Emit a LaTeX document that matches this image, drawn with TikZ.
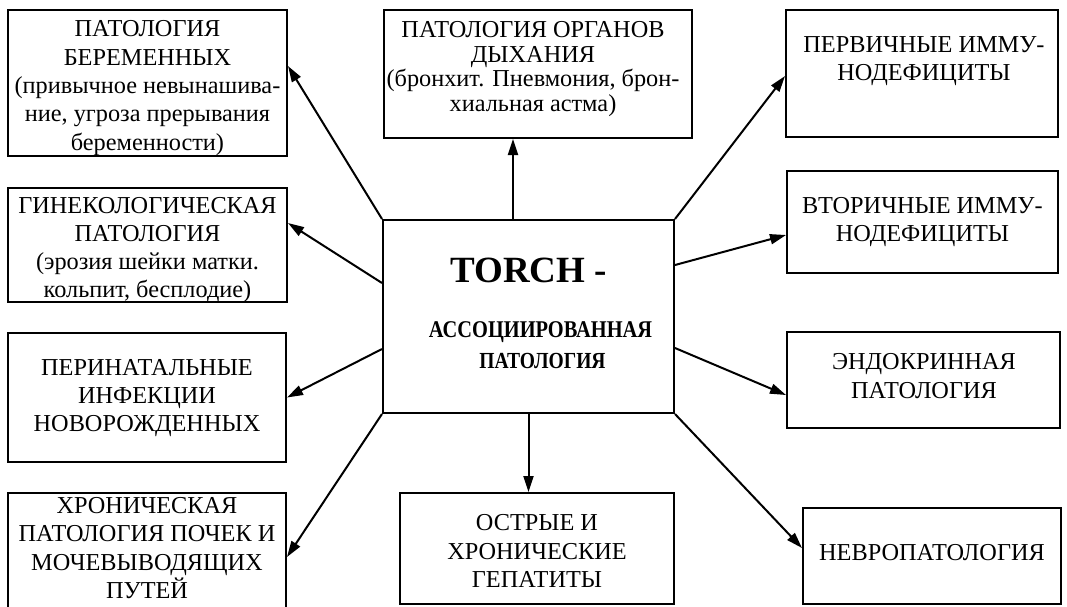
\documentclass[tikz,border=0pt]{standalone}
\usepackage{fontspec}
\setmainfont{Liberation Serif}
\newfontfamily\cenfont{Liberation Serif}[FakeStretch=0.85]
\usetikzlibrary{arrows.meta}
\tikzset{
  box/.style={draw, line width=2pt, inner sep=0pt},
  txt/.style={align=center, inner sep=0pt, font=\fontsize{24.3}{28.3}\selectfont},
  txtr/.style={align=center, inner sep=0pt, font=\fontsize{24.3}{24.8}\selectfont},
  arr/.style={line width=2pt, -{Triangle[length=16pt,width=10pt]}}
}
\begin{document}
\begin{tikzpicture}[x=1pt,y=-1pt]
\useasboundingbox (0,0) rectangle (1067,606);
\clip (0,0) rectangle (1067,606);
% boxes
\node[box, minimum width=279pt, minimum height=146pt] (pb) at (147.5,83) {};
\node[box, minimum width=279pt, minimum height=114pt] (gyn) at (147.5,245) {};
\node[box, minimum width=278pt, minimum height=129pt] (per) at (147,397.5) {};
\node[box, minimum width=278pt, minimum height=119pt] (kid) at (147,552.5) {};
\node[box, minimum width=308pt, minimum height=128pt] (resp) at (538,74) {};
\node[box, minimum width=291pt, minimum height=193pt] (cen) at (528.5,316.5) {};
\node[box, minimum width=274pt, minimum height=111pt] (hep) at (537,548.5) {};
\node[box, minimum width=272pt, minimum height=127pt] (prim) at (922,73.5) {};
\node[box, minimum width=271pt, minimum height=102pt] (sec) at (922.5,222) {};
\node[box, minimum width=273pt, minimum height=96pt] (endo) at (923.5,380) {};
\node[box, minimum width=258pt, minimum height=96pt] (neu) at (932,556) {};
% texts
\node[txt] (pbt) at (147.5,88) {ПАТОЛОГИЯ\\БЕРЕМЕННЫХ\\(привычное невынашива-\\ние, угроза прерывания\\беременности)};
\node[txt] (gynt) at (147.5,250) {ГИНЕКОЛОГИЧЕСКАЯ\\ПАТОЛОГИЯ\\(эрозия шейки матки.\\кольпит, бесплодие)};
\node[txt] (pert) at (147,398) {ПЕРИНАТАЛЬНЫЕ\\ИНФЕКЦИИ\\НОВОРОЖДЕННЫХ};
\node[txt] (kidt) at (147,548) {ХРОНИЧЕСКАЯ\\ПАТОЛОГИЯ ПОЧЕК И\\МОЧЕВЫВОДЯЩИХ\\ПУТЕЙ};
\node[txtr] (respt) at (533,69) {ПАТОЛОГИЯ ОРГАНОВ\\ДЫХАНИЯ\\(бронхит. Пневмония, брон-\\хиальная астма)};
\node[txt] (hept) at (537,551) {ОСТРЫЕ И\\ХРОНИЧЕСКИЕ\\ГЕПАТИТЫ};
\node[txt] (primt) at (924,61) {ПЕРВИЧНЫЕ ИММУ-\\НОДЕФИЦИТЫ};
\node[txt] (sect) at (922.5,222) {ВТОРИЧНЫЕ ИММУ-\\НОДЕФИЦИТЫ};
\node[txt] (endot) at (924,376) {ЭНДОКРИННАЯ\\ПАТОЛОГИЯ};
\node[txt] (neut) at (932,553) {НЕВРОПАТОЛОГИЯ};
\node[inner sep=0pt, anchor=base, font=\fontsize{37}{40}\selectfont\bfseries] (c1) at (528.5,282) {TORCH -};
\node[inner sep=0pt, anchor=base, font=\cenfont\fontsize{24}{28}\selectfont\bfseries] (c2) at (540.5,337) {АССОЦИИРОВАННАЯ};
\node[inner sep=0pt, anchor=base, font=\cenfont\fontsize{23}{28}\selectfont\bfseries] (c3) at (542.5,368) {ПАТОЛОГИЯ};
% connectors
\draw[arr] (cen.north west) -- ([yshift=17pt]pb.east);
\draw[arr] ([yshift=33.5pt]cen.west) -- ([yshift=22pt]gyn.east);
\draw[arr] ([yshift=-32.5pt]cen.west) -- (per.east);
\draw[arr] (cen.south west) -- ([yshift=-4.5pt]kid.east);
\draw[arr] ([xshift=-15.5pt]cen.north) -- ([xshift=-15.5pt]cen.north |- resp.south);
\draw[arr] (cen.south) -- (cen.south |- hep.north);
\draw[arr] (cen.north east) -- ([yshift=-2.5pt]prim.west);
\draw[arr] ([yshift=51.5pt]cen.east) -- ([yshift=-13pt]sec.west);
\draw[arr] ([yshift=-31.5pt]cen.east) -- ([yshift=-15pt]endo.west);
\draw[arr] (cen.south east) -- ([yshift=8pt]neu.west);
\end{tikzpicture}
\end{document}
